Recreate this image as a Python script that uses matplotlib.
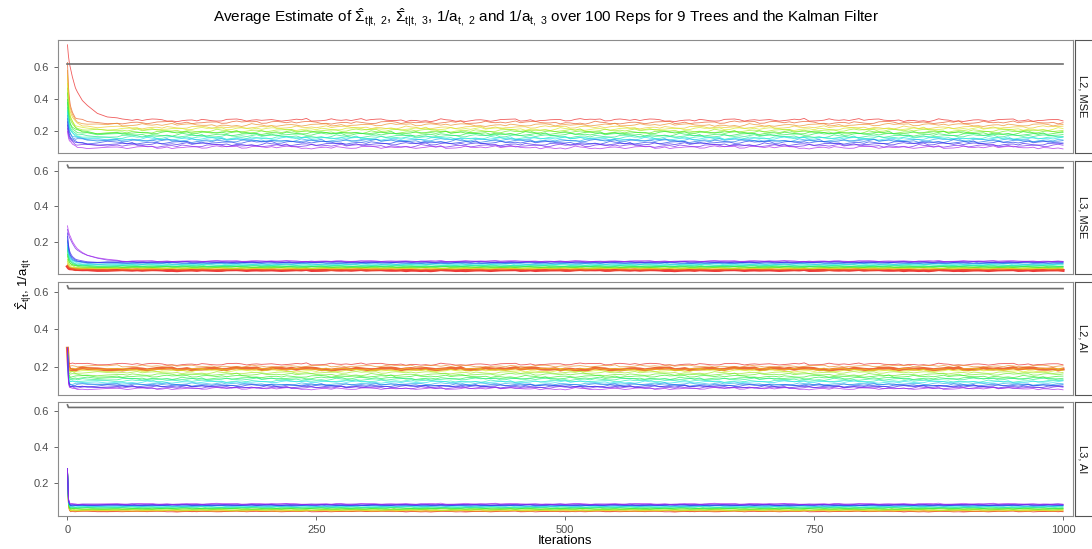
import colorsys
import numpy as np
import matplotlib
matplotlib.use("Agg")
import matplotlib.pyplot as plt
from matplotlib import font_manager

# iterations at which the averages are drawn
iters = [0, 1, 2, 3, 5, 8, 10, 15, 20, 30, 40, 50] + list(range(55, 1001, 5))

# fraction of the start-level gap left at the early iterations
slow_decay = [1, 0.85, 0.75, 0.68, 0.55, 0.42, 0.36, 0.25, 0.18, 0.1, 0.05, 0.02]
fast_decay = [1, 0.6, 0.4, 0.3, 0.18, 0.1, 0.07, 0.03, 0.01, 0, 0, 0]
jump_decay = [1, 0.15, 0.03, 0, 0, 0, 0, 0, 0, 0, 0, 0]

# hand-read wiggle of the averaged estimates (tenths of the panel amplitude)
wiggle = [3, -2, 5, -4, 1, 6, -3, -7, 2, 4, -1, -5, 8, -2, 0, 3, -6, 2, 5, -3,
          -1, 4, -8, 1, 6, -2, 3, -4, 7, -1, -3, 2, -5, 4, 0, -2, 6, -6, 1, 3,
          -4, 5, -1, -7, 2, 4, -3, 9, -2, 1, -5, 3, 2, -4, 6, -1, -3, 5, -6, 0,
          2, -2, 7, -5, 3, 1, -4, 4, -1, -8, 5, 2, -3, 6, -2, 0, -5, 3, 1, -3,
          8, -4, 2, -1, 4, -6, 3, 1, -2, 5, -3, -1, 6, -5, 2, 0, -4, 3, -2, 4]

panel_names = ["L2, MSE", "L3, MSE", "L2, AI", "L3, AI"]

# line 0 = red ... line 17 = violet
l2_mse_start = [0.74, 0.63, 0.58, 0.55, 0.50, 0.47, 0.44, 0.40, 0.38,
                0.35, 0.33, 0.32, 0.30, 0.28, 0.26, 0.24, 0.22, 0.20]
l2_mse_level = [0.27, 0.255, 0.24, 0.225, 0.215, 0.205, 0.195, 0.19, 0.18,
                0.17, 0.16, 0.155, 0.145, 0.14, 0.13, 0.12, 0.11, 0.10]
l3_mse_start = [0.06, 0.06, 0.07, 0.08, 0.09, 0.10, 0.12, 0.13, 0.15,
                0.16, 0.17, 0.18, 0.20, 0.21, 0.23, 0.25, 0.27, 0.29]
l3_mse_level = [0.040, 0.041, 0.045, 0.048, 0.050, 0.053, 0.056, 0.058, 0.061,
                0.064, 0.068, 0.072, 0.076, 0.080, 0.083, 0.086, 0.088, 0.091]
l2_ai_start = [0.30] * 18
l2_ai_level = [0.215, 0.19, 0.205, 0.188, 0.18, 0.17, 0.16, 0.15, 0.14,
               0.135, 0.125, 0.12, 0.11, 0.105, 0.10, 0.095, 0.09, 0.085]
l3_ai_start = [0.28] * 18
l3_ai_level = [0.044, 0.045, 0.047, 0.049, 0.051, 0.054, 0.057, 0.060, 0.063,
               0.066, 0.069, 0.072, 0.075, 0.077, 0.079, 0.081, 0.083, 0.086]

kalman_start = [0.62, 0.632, 0.632, 0.632]
kalman_level = [0.62, 0.618, 0.618, 0.618]

starts = [l2_mse_start, l3_mse_start, l2_ai_start, l3_ai_start]
levels = [l2_mse_level, l3_mse_level, l2_ai_level, l3_ai_level]
decays = [fast_decay, fast_decay, jump_decay, jump_decay]
slow_lines = [[0], [16, 17], [], []]
bold_lines = [[], [0], [1], []]
amps = [0.012, 0.004, 0.008, 0.004]
ylims = [(0.065, 0.77), (0.018, 0.656), (0.051, 0.653), (0.019, 0.648)]

# panel boxes in pixels (top, bottom)
W, H = 1092, 549
boxes = [(40, 153), (161, 274), (282, 395), (402, 516)]
px_left, px_right = 58, 1073

txt_font = 'DejaVu Sans'
for fam in ["Liberation Sans Narrow", "Liberation Sans"]:
    try:
        font_manager.findfont(fam, fallback_to_default=False)
        txt_font = fam
        break
    except Exception:
        continue

plt.rcParams['font.family'] = [txt_font, 'DejaVu Sans']
plt.rcParams['mathtext.fontset'] = 'custom'
plt.rcParams['mathtext.rm'] = txt_font
plt.rcParams['mathtext.it'] = txt_font
plt.rcParams['mathtext.bf'] = txt_font

fig = plt.figure(figsize=(W / 100, H / 100), dpi=100)

colors = [colorsys.hsv_to_rgb(0.78 * k / 17, 0.85, 0.92) for k in range(18)]
n_early = len(slow_decay)

for p in range(4):
    top, bot = boxes[p]
    ax = fig.add_axes([px_left / W, 1 - bot / H, (px_right - px_left) / W, (bot - top) / H])
    for i in range(18):
        dec = slow_decay if i in slow_lines[p] else decays[p]
        ys = []
        for j, it in enumerate(iters):
            f = dec[j] if j < n_early else 0
            y = levels[p][i] + (starts[p][i] - levels[p][i]) * f
            if j >= 3:
                y += amps[p] * wiggle[(3 * j + 7 * i) % len(wiggle)] / 10
            ys.append(y)
        if i in bold_lines[p]:
            ax.plot(iters, ys, color=colors[i], lw=2.2, alpha=0.9)
        else:
            ax.plot(iters, ys, color=colors[i], lw=0.6, alpha=0.75)
    ky = [kalman_start[p]] + [kalman_level[p]] * (len(iters) - 1)
    ax.plot(iters, ky, color='#6E6E6E', lw=1.2)

    ax.set_xlim(-9.5, 1010)
    ax.set_ylim(*ylims[p])
    ax.set_yticks([0.2, 0.4, 0.6])
    ax.set_xticks([0, 250, 500, 750, 1000])
    ax.tick_params(colors='#4D4D4D', labelsize=8, length=3, width=0.6)
    for s in ax.spines.values():
        s.set_color('#8C8C8C')
        s.set_linewidth(0.8)
    if p < 3:
        ax.tick_params(axis='x', labelbottom=False, length=0)

    # facet strip on the right
    sx = fig.add_axes([1075 / W, 1 - bot / H, 22 / W, (bot - top) / H])
    sx.set_xticks([])
    sx.set_yticks([])
    for s in sx.spines.values():
        s.set_color('#555555')
        s.set_linewidth(0.8)
    sx.text(0.35, 0.5, panel_names[p], rotation=-90, ha='center', va='center',
            fontsize=8, color='#1A1A1A', transform=sx.transAxes)

fig.text(546 / W, 1 - 18 / H,
         r"Average Estimate of $\hat{\Sigma}_{\mathrm{t|t,\ 2}}$, $\hat{\Sigma}_{\mathrm{t|t,\ 3}}$, "
         r"$1/\mathrm{a}_{\mathrm{t,\ 2}}$ and $1/\mathrm{a}_{\mathrm{t,\ 3}}$ over 100 Reps for 9 Trees and the Kalman Filter",
         ha='center', va='center', fontsize=11, color='black')
fig.text(565 / W, 1 - 541 / H, "Iterations", ha='center', va='center', fontsize=9.5)
fig.text(24 / W, 1 - 284 / H, r"$\hat{\Sigma}_{\mathrm{t|t}}$, $1/\mathrm{a}_{\mathrm{t|t}}$",
         rotation=90, ha='center', va='center', fontsize=9.5)

fig.savefig("out.png", dpi=100)
